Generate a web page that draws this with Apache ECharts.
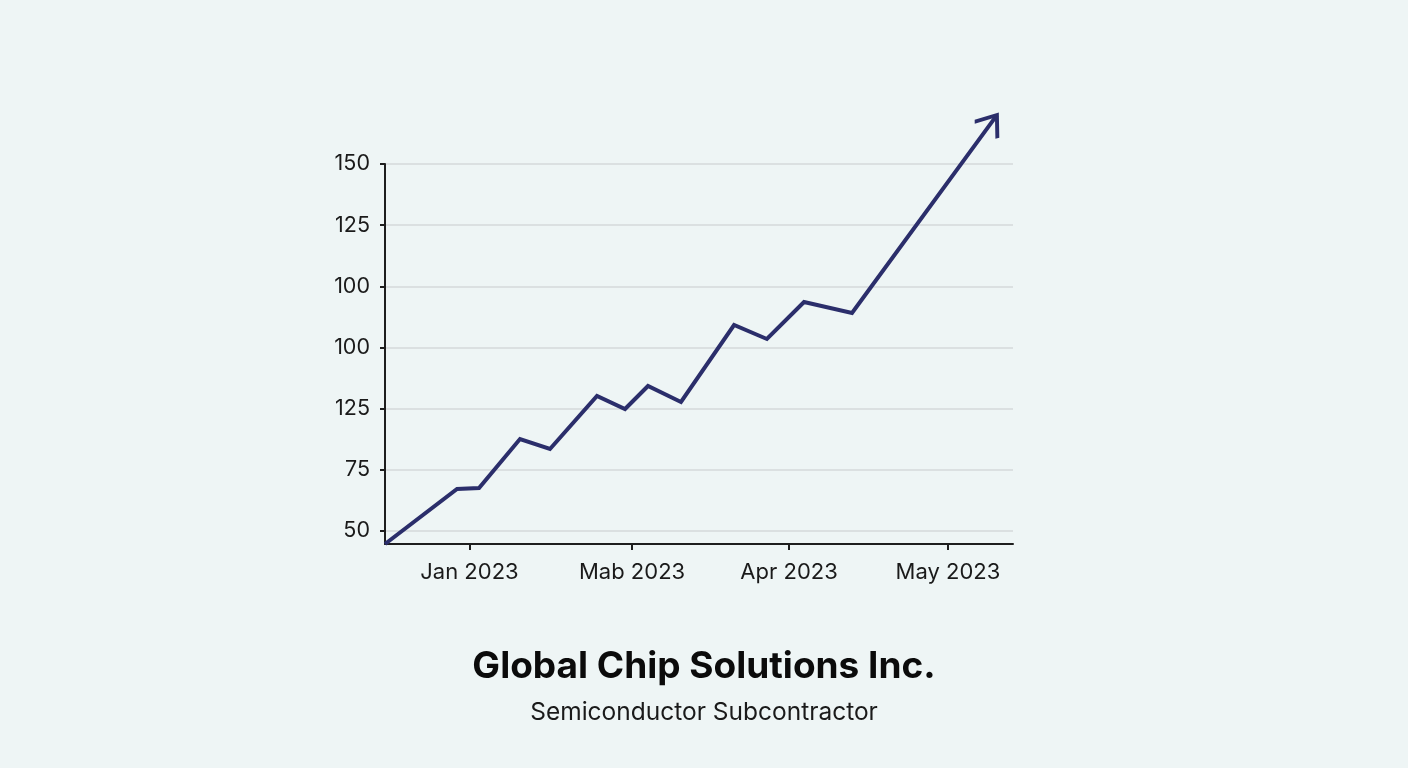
<!DOCTYPE html>
<html>
<head>
<meta charset="utf-8">
<script src="https://cdn.jsdelivr.net/npm/echarts@6/dist/echarts.min.js"></script>
<style>
html,body{margin:0;padding:0;width:1408px;height:768px;overflow:hidden;background:#eef5f5;}
#chart{width:1408px;height:768px;}
</style>
</head>
<body>
<div id="chart"></div>
<script>
// --- data ---
const xValues = [0.47, 0.922, 1.06, 1.317, 1.505, 1.80, 1.976, 2.12, 2.327, 2.66, 2.866, 3.099, 3.40, 4.309];
const yValues = [-0.2125, 0.687, 0.703, 1.504, 1.341, 2.207, 1.994, 2.370, 2.109, 3.368, 3.139, 3.744, 3.564, 6.80];
const xTickValues = [1, 2.02, 3.005, 4.002];
const xTickLabels = ['Jan 2023', 'Mab 2023', 'Apr 2023', 'May 2023'];
const yTickValues = [0, 1, 2, 3, 4, 5, 6];
const yTickLabels = ['50', '75', '125', '100', '100', '125', '150'];
const titleText = 'Global Chip Solutions Inc.';
const subtitleText = 'Semiconductor Subcontractor';

const lineColor = '#2b2e6b';
const arrowPath = 'path://M0,-8 M-6,8 L0,0 L6,8';
const FONT = 'Inter';

const seriesData = xValues.map((x, i) => {
  const item = { value: [x, yValues[i]] };
  if (i === xValues.length - 1) {
    item.symbol = arrowPath;
    item.symbolSize = [28, 37];
    item.symbolRotate = -36;
    item.itemStyle = { color: 'rgba(0,0,0,0)', borderColor: lineColor, borderWidth: 4, borderJoin: 'miter', borderCap: 'butt' };
  }
  return item;
});

const chart = echarts.init(document.getElementById('chart'), null, { renderer: 'canvas' });
chart.setOption({
  backgroundColor: '#eef5f5',
  animation: false,
  textStyle: { fontFamily: FONT },
  title: [
    { text: titleText, left: 'center', top: 643,
      textStyle: { fontFamily: FONT, fontSize: 37, fontWeight: 'bold', color: '#0b0b0b' } },
    { text: subtitleText, left: 'center', top: 695,
      textStyle: { fontFamily: FONT, fontSize: 24.5, fontWeight: 'normal', color: '#1a1a1a' } }
  ],
  grid: { left: 385, right: 395, top: 164, bottom: 224, containLabel: false },
  xAxis: {
    type: 'value', min: 0.47, max: 4.41,
    axisLine: { show: true, onZero: false, lineStyle: { color: '#1e1e1e', width: 2 } },
    axisTick: { show: true, length: 6, customValues: xTickValues, lineStyle: { color: '#1e1e1e', width: 2 } },
    axisLabel: { customValues: xTickValues, margin: 17, fontSize: 22, color: '#1a1a1a', fontFamily: FONT,
      formatter: v => { const i = xTickValues.findIndex(t => Math.abs(t - v) < 1e-6); return i >= 0 ? xTickLabels[i] : ''; } },
    splitLine: { show: false }
  },
  yAxis: {
    type: 'value', min: -0.2125, max: 6,
    axisLine: { show: true, lineStyle: { color: '#1e1e1e', width: 2 } },
    axisTick: { show: true, length: 5, customValues: yTickValues, lineStyle: { color: '#1e1e1e', width: 2 } },
    axisLabel: { customValues: yTickValues, margin: 15, fontSize: 21.5, color: '#1a1a1a', fontFamily: FONT,
      formatter: v => { const i = yTickValues.findIndex(t => Math.abs(t - v) < 1e-6); return i >= 0 ? yTickLabels[i] : ''; } },
    splitLine: { show: true, lineStyle: { color: '#d4d8da', width: 1.5 } }
  },
  series: [{
    type: 'line',
    data: seriesData,
    symbol: 'none',
    clip: false,
    lineStyle: { color: lineColor, width: 4, join: 'miter' },
    itemStyle: { color: lineColor },
    z: 5
  }]
});
</script>
</body>
</html>
